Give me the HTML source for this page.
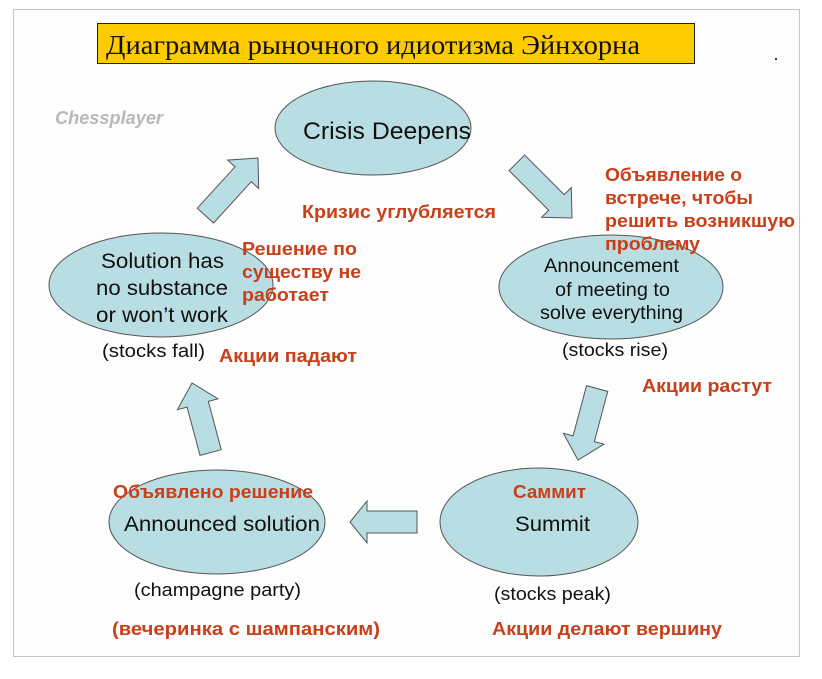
<!DOCTYPE html>
<html><head><meta charset="utf-8"><style>
html,body{margin:0;padding:0;background:#fff;width:822px;height:679px;overflow:hidden}
</style></head><body>
<svg width="822" height="679" viewBox="0 0 822 679" xmlns="http://www.w3.org/2000/svg">
<rect x="13.5" y="9.5" width="786" height="647" fill="#fdfdfd" stroke="#c4c4c4" stroke-width="1"/>
<rect x="97.5" y="23.5" width="597" height="40" fill="#fecb00" stroke="#222" stroke-width="1"/>
<text x="106" y="54" font-family="Liberation Serif, serif" font-size="27" fill="#111" textLength="534" lengthAdjust="spacingAndGlyphs">Диаграмма рыночного идиотизма Эйнхорна</text>
<rect x="775" y="58" width="2" height="2" fill="#333"/>
<text x="55" y="124" font-family="Liberation Sans, sans-serif" font-size="18" font-weight="bold" font-style="italic" fill="#b8b8b8" textLength="108" lengthAdjust="spacingAndGlyphs">Chessplayer</text>

<g fill="#b8dde3" stroke="#555" stroke-width="1">
<ellipse cx="373" cy="128" rx="98" ry="47"/>
<ellipse cx="161" cy="285" rx="112" ry="52"/>
<ellipse cx="611" cy="287" rx="112" ry="52"/>
<ellipse cx="217" cy="522" rx="108" ry="52"/>
<ellipse cx="539" cy="522" rx="99" ry="54"/>
</g>

<g fill="#b8dde3" stroke="#555" stroke-width="1">
<polygon points="-22,-11 -78,-11 -78,11 -22,11 -22,21 0,0 -22,-21" transform="translate(258,158) rotate(-47.6)"/>
<polygon points="-22,-11 -78,-11 -78,11 -22,11 -22,21 0,0 -22,-21" transform="translate(572,218) rotate(45)"/>
<polygon points="-22,-11 -74,-11 -74,11 -22,11 -22,21 0,0 -22,-21" transform="translate(578,460) rotate(105)"/>
<polygon points="-22,-11 -72,-11 -72,11 -22,11 -22,21 0,0 -22,-21" transform="translate(192,383) rotate(-105)"/>
<polygon points="-17,-11 -67,-11 -67,11 -17,11 -17,21 0,0 -17,-21" transform="translate(350,522) rotate(180)"/>
</g>

<g font-family="Liberation Sans, sans-serif" fill="#111">
<text x="303" y="139" font-size="24" textLength="168" lengthAdjust="spacingAndGlyphs">Crisis Deepens</text>
<text x="101" y="268" font-size="21" textLength="123" lengthAdjust="spacingAndGlyphs">Solution has</text>
<text x="96" y="295" font-size="21" textLength="132" lengthAdjust="spacingAndGlyphs">no substance</text>
<text x="96" y="322" font-size="21" textLength="132" lengthAdjust="spacingAndGlyphs">or won’t work</text>
<text x="544" y="272" font-size="19" textLength="135" lengthAdjust="spacingAndGlyphs">Announcement</text>
<text x="555" y="296" font-size="19" textLength="115" lengthAdjust="spacingAndGlyphs">of meeting to</text>
<text x="540" y="319" font-size="19" textLength="143" lengthAdjust="spacingAndGlyphs">solve everything</text>
<text x="124" y="531" font-size="21" textLength="196" lengthAdjust="spacingAndGlyphs">Announced solution</text>
<text x="515" y="531" font-size="21" textLength="75" lengthAdjust="spacingAndGlyphs">Summit</text>
<text x="102" y="357" font-size="18" textLength="103" lengthAdjust="spacingAndGlyphs">(stocks fall)</text>
<text x="562" y="356" font-size="18" textLength="106" lengthAdjust="spacingAndGlyphs">(stocks rise)</text>
<text x="134" y="596" font-size="18" textLength="167" lengthAdjust="spacingAndGlyphs">(champagne party)</text>
<text x="494" y="600" font-size="18" textLength="117" lengthAdjust="spacingAndGlyphs">(stocks peak)</text>
</g>

<g font-family="Liberation Sans, sans-serif" font-weight="bold" fill="#c8401a" font-size="18">
<text x="302" y="218" textLength="194" lengthAdjust="spacingAndGlyphs">Кризис углубляется</text>
<text x="242" y="255" textLength="115" lengthAdjust="spacingAndGlyphs">Решение по</text>
<text x="242" y="278" textLength="119" lengthAdjust="spacingAndGlyphs">существу не</text>
<text x="242" y="301" textLength="87" lengthAdjust="spacingAndGlyphs">работает</text>
<text x="219" y="362" textLength="138" lengthAdjust="spacingAndGlyphs">Акции падают</text>
<text x="605" y="181" textLength="137" lengthAdjust="spacingAndGlyphs">Объявление о</text>
<text x="605" y="204" textLength="148" lengthAdjust="spacingAndGlyphs">встрече, чтобы</text>
<text x="605" y="227" textLength="190" lengthAdjust="spacingAndGlyphs">решить возникшую</text>
<text x="605" y="250" textLength="95" lengthAdjust="spacingAndGlyphs">проблему</text>
<text x="642" y="392" textLength="130" lengthAdjust="spacingAndGlyphs">Акции растут</text>
<text x="113" y="498" textLength="200" lengthAdjust="spacingAndGlyphs">Объявлено решение</text>
<text x="513" y="498" textLength="73" lengthAdjust="spacingAndGlyphs">Саммит</text>
<text x="112" y="635" textLength="268" lengthAdjust="spacingAndGlyphs">(вечеринка с шампанским)</text>
<text x="492" y="635" textLength="230" lengthAdjust="spacingAndGlyphs">Акции делают вершину</text>
</g>
</svg>
</body></html>
